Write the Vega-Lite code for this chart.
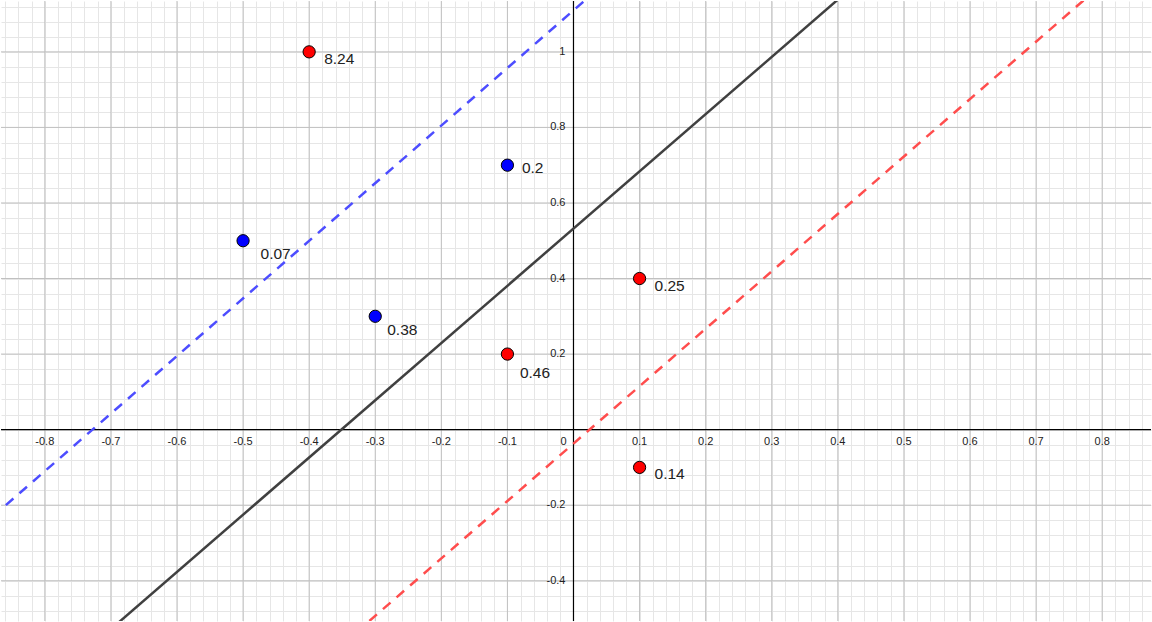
{
  "$schema": "https://vega.github.io/schema/vega-lite/v6.json",
  "width": 1152,
  "height": 622,
  "padding": 0,
  "autosize": {"type": "fit", "contains": "padding"},
  "background": "white",
  "config": {"view": {"stroke": null}, "axis": {"title": null}},
  "resolve": {"axis": {"x": "independent", "y": "independent"}},
  "datasets": {
    "points": [
      {"x": -0.4, "y": 1.0, "cls": "red", "label": "8.24"},
      {"x": -0.1, "y": 0.7, "cls": "blue", "label": "0.2"},
      {"x": -0.5, "y": 0.5, "cls": "blue", "label": "0.07"},
      {"x": -0.3, "y": 0.3, "cls": "blue", "label": "0.38"},
      {"x": -0.1, "y": 0.2, "cls": "red", "label": "0.46"},
      {"x": 0.1, "y": 0.4, "cls": "red", "label": "0.25"},
      {"x": 0.1, "y": -0.1, "cls": "red", "label": "0.14"}
    ],
    "lines": [
      {"line": "boundary", "x": -0.75, "y": -0.604},
      {"line": "boundary", "x": 0.45, "y": 1.214},
      {"line": "blue", "x": -0.9, "y": -0.2625},
      {"line": "blue", "x": 0.05, "y": 1.186},
      {"line": "red", "x": -0.35, "y": -0.569},
      {"line": "red", "x": 0.8, "y": 1.179}
    ],
    "xmaj": [{"v": -0.8}, {"v": -0.7}, {"v": -0.6}, {"v": -0.5}, {"v": -0.4}, {"v": -0.3}, {"v": -0.2}, {"v": -0.1}, {"v": 0.1}, {"v": 0.2}, {"v": 0.3}, {"v": 0.4}, {"v": 0.5}, {"v": 0.6}, {"v": 0.7}, {"v": 0.8}],
    "ymaj": [{"v": -0.4}, {"v": -0.2}, {"v": 0.2}, {"v": 0.4}, {"v": 0.6}, {"v": 0.8}, {"v": 1.0}],
    "xlab": [
      {"v": -0.8, "t": "-0.8"}, {"v": -0.7, "t": "-0.7"}, {"v": -0.6, "t": "-0.6"}, {"v": -0.5, "t": "-0.5"},
      {"v": -0.4, "t": "-0.4"}, {"v": -0.3, "t": "-0.3"}, {"v": -0.2, "t": "-0.2"}, {"v": -0.1, "t": "-0.1"},
      {"v": 0.1, "t": "0.1"}, {"v": 0.2, "t": "0.2"}, {"v": 0.3, "t": "0.3"}, {"v": 0.4, "t": "0.4"},
      {"v": 0.5, "t": "0.5"}, {"v": 0.6, "t": "0.6"}, {"v": 0.7, "t": "0.7"}, {"v": 0.8, "t": "0.8"}
    ],
    "ylab": [
      {"v": -0.4, "t": "-0.4"}, {"v": -0.2, "t": "-0.2"}, {"v": 0.2, "t": "0.2"}, {"v": 0.4, "t": "0.4"},
      {"v": 0.6, "t": "0.6"}, {"v": 0.8, "t": "0.8"}, {"v": 1.0, "t": "1"}
    ],
    "zero": [{"v": 0, "t": "0"}]
  },
  "layer": [
    {
      "data": {"name": "zero"},
      "mark": {"type": "point", "opacity": 0},
      "encoding": {
        "x": {"field": "v", "type": "quantitative", "scale": {"domain": [-0.8663, 0.8739], "nice": false, "zero": false},
          "axis": {"grid": true, "labels": false, "ticks": false, "domain": false, "gridColor": "#e6e6e6", "gridWidth": 1, "gridOpacity": 1,
            "values": [-0.86,-0.84,-0.82,-0.8,-0.78,-0.76,-0.74,-0.72,-0.7,-0.68,-0.66,-0.64,-0.62,-0.6,-0.58,-0.56,-0.54,-0.52,-0.5,-0.48,-0.46,-0.44,-0.42,-0.4,-0.38,-0.36,-0.34,-0.32,-0.3,-0.28,-0.26,-0.24,-0.22,-0.2,-0.18,-0.16,-0.14,-0.12,-0.1,-0.08,-0.06,-0.04,-0.02,0,0.02,0.04,0.06,0.08,0.1,0.12,0.14,0.16,0.18,0.2,0.22,0.24,0.26,0.28,0.3,0.32,0.34,0.36,0.38,0.4,0.42,0.44,0.46,0.48,0.5,0.52,0.54,0.56,0.58,0.6,0.62,0.64,0.66,0.68,0.7,0.72,0.74,0.76,0.78,0.8,0.82,0.84,0.86]}},
        "y": {"field": "v", "type": "quantitative", "scale": {"domain": [-0.5066, 1.1346], "nice": false, "zero": false},
          "axis": {"grid": true, "labels": false, "ticks": false, "domain": false, "gridColor": "#e6e6e6", "gridWidth": 1, "gridOpacity": 1,
            "values": [-0.48,-0.44,-0.4,-0.36,-0.32,-0.28,-0.24,-0.2,-0.16,-0.12,-0.08,-0.04,0,0.04,0.08,0.12,0.16,0.2,0.24,0.28,0.32,0.36,0.4,0.44,0.48,0.52,0.56,0.6,0.64,0.68,0.72,0.76,0.8,0.84,0.88,0.92,0.96,1.0,1.04,1.08,1.12]}}
      }
    },
    {
      "data": {"name": "xmaj"},
      "mark": {"type": "rule", "color": "#c0c0c0", "strokeWidth": 1},
      "encoding": {"x": {"field": "v", "type": "quantitative", "axis": null}}
    },
    {
      "data": {"name": "ymaj"},
      "mark": {"type": "rule", "color": "#c0c0c0", "strokeWidth": 1},
      "encoding": {"y": {"field": "v", "type": "quantitative", "axis": null}}
    },
    {
      "data": {"name": "zero"},
      "mark": {"type": "rule", "color": "#000000", "strokeWidth": 1.2},
      "encoding": {"x": {"field": "v", "type": "quantitative", "axis": null}}
    },
    {
      "data": {"name": "zero"},
      "mark": {"type": "rule", "color": "#000000", "strokeWidth": 1.2},
      "encoding": {"y": {"field": "v", "type": "quantitative", "axis": null}}
    },
    {
      "data": {"name": "xlab"},
      "mark": {"type": "text", "font": "Liberation Sans", "fontSize": 11, "color": "#222222", "align": "center", "baseline": "middle", "dy": 12},
      "encoding": {
        "x": {"field": "v", "type": "quantitative", "axis": null},
        "y": {"datum": 0, "type": "quantitative", "axis": null},
        "text": {"field": "t"}
      }
    },
    {
      "data": {"name": "zero"},
      "mark": {"type": "text", "font": "Liberation Sans", "fontSize": 11, "color": "#222222", "align": "center", "baseline": "middle", "dy": 12, "dx": -10},
      "encoding": {
        "x": {"field": "v", "type": "quantitative", "axis": null},
        "y": {"field": "v", "type": "quantitative", "axis": null},
        "text": {"field": "t"}
      }
    },
    {
      "data": {"name": "ylab"},
      "mark": {"type": "text", "font": "Liberation Sans", "fontSize": 11, "color": "#222222", "align": "right", "baseline": "middle", "dx": -8},
      "encoding": {
        "x": {"datum": 0, "type": "quantitative", "axis": null},
        "y": {"field": "v", "type": "quantitative", "axis": null},
        "text": {"field": "t"}
      }
    },
    {
      "data": {"name": "lines"},
      "transform": [{"filter": "datum.line == 'boundary'"}],
      "mark": {"type": "line", "color": "#404040", "strokeWidth": 2.5, "clip": true},
      "encoding": {"x": {"field": "x", "type": "quantitative", "axis": null}, "y": {"field": "y", "type": "quantitative", "axis": null}}
    },
    {
      "data": {"name": "lines"},
      "transform": [{"filter": "datum.line == 'blue'"}],
      "mark": {"type": "line", "color": "#4d4dff", "strokeWidth": 2.5, "strokeDash": [10, 8], "clip": true},
      "encoding": {"x": {"field": "x", "type": "quantitative", "axis": null}, "y": {"field": "y", "type": "quantitative", "axis": null}}
    },
    {
      "data": {"name": "lines"},
      "transform": [{"filter": "datum.line == 'red'"}],
      "mark": {"type": "line", "color": "#ff4d4d", "strokeWidth": 2.5, "strokeDash": [10, 8], "clip": true},
      "encoding": {"x": {"field": "x", "type": "quantitative", "axis": null}, "y": {"field": "y", "type": "quantitative", "axis": null}}
    },
    {
      "data": {"name": "points"},
      "mark": {"type": "point", "shape": "circle", "filled": true, "size": 150, "stroke": "#000000", "strokeWidth": 1, "opacity": 1},
      "encoding": {
        "x": {"field": "x", "type": "quantitative", "axis": null},
        "y": {"field": "y", "type": "quantitative", "axis": null},
        "fill": {"field": "cls", "type": "nominal", "scale": {"domain": ["red", "blue"], "range": ["#ff0000", "#0000ff"]}, "legend": null}
      }
    },
    {
      "data": {"name": "points"},
      "transform": [{"filter": "indexof(['8.24','0.25','0.14'], datum.label) >= 0"}],
      "mark": {"type": "text", "font": "Liberation Sans", "fontSize": 15.5, "color": "#222222", "align": "left", "baseline": "middle", "dx": 15, "dy": 7},
      "encoding": {"x": {"field": "x", "type": "quantitative", "axis": null}, "y": {"field": "y", "type": "quantitative", "axis": null}, "text": {"field": "label"}}
    },
    {
      "data": {"name": "points"},
      "transform": [{"filter": "datum.label == '0.2'"}],
      "mark": {"type": "text", "font": "Liberation Sans", "fontSize": 15.5, "color": "#222222", "align": "left", "baseline": "middle", "dx": 14.5, "dy": 3},
      "encoding": {"x": {"field": "x", "type": "quantitative", "axis": null}, "y": {"field": "y", "type": "quantitative", "axis": null}, "text": {"field": "label"}}
    },
    {
      "data": {"name": "points"},
      "transform": [{"filter": "datum.label == '0.07'"}],
      "mark": {"type": "text", "font": "Liberation Sans", "fontSize": 15.5, "color": "#222222", "align": "left", "baseline": "middle", "dx": 17.5, "dy": 13},
      "encoding": {"x": {"field": "x", "type": "quantitative", "axis": null}, "y": {"field": "y", "type": "quantitative", "axis": null}, "text": {"field": "label"}}
    },
    {
      "data": {"name": "points"},
      "transform": [{"filter": "datum.label == '0.38'"}],
      "mark": {"type": "text", "font": "Liberation Sans", "fontSize": 15.5, "color": "#222222", "align": "left", "baseline": "middle", "dx": 12, "dy": 13.5},
      "encoding": {"x": {"field": "x", "type": "quantitative", "axis": null}, "y": {"field": "y", "type": "quantitative", "axis": null}, "text": {"field": "label"}}
    },
    {
      "data": {"name": "points"},
      "transform": [{"filter": "datum.label == '0.46'"}],
      "mark": {"type": "text", "font": "Liberation Sans", "fontSize": 15.5, "color": "#222222", "align": "left", "baseline": "middle", "dx": 12.5, "dy": 19},
      "encoding": {"x": {"field": "x", "type": "quantitative", "axis": null}, "y": {"field": "y", "type": "quantitative", "axis": null}, "text": {"field": "label"}}
    }
  ]
}
